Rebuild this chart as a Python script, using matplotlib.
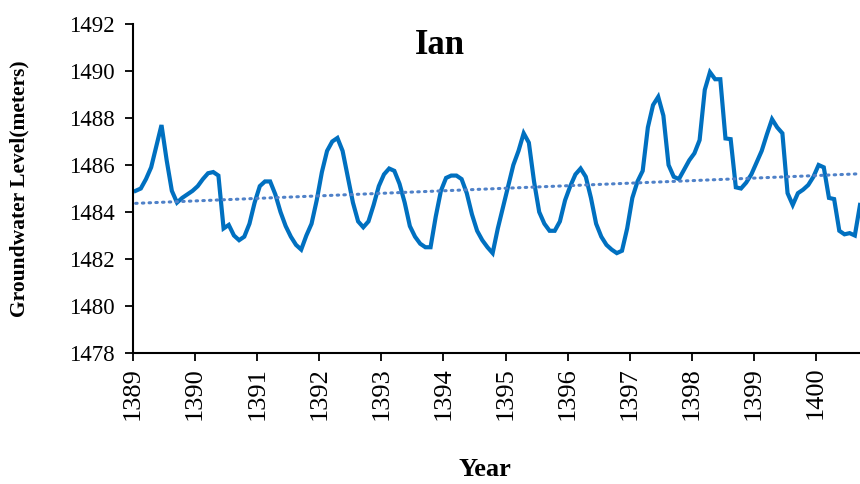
import numpy as np
import matplotlib.pyplot as plt

plt.rcParams['font.family'] = ['Liberation Serif', 'DejaVu Serif']

# monthly groundwater level (m), 1389 .. 1400
level = [
    1484.9, 1485.0, 1485.4, 1485.9, 1486.8, 1487.7, 1486.2, 1484.9, 1484.4, 1484.6, 1484.75, 1484.9,
    1485.1, 1485.4, 1485.65, 1485.7, 1485.55, 1483.3, 1483.45, 1483.0, 1482.8, 1482.95, 1483.5, 1484.4,
    1485.1, 1485.3, 1485.3, 1484.75, 1484.0, 1483.4, 1482.95, 1482.6, 1482.4, 1483.0, 1483.5, 1484.5,
    1485.7, 1486.6, 1487.0, 1487.15, 1486.6, 1485.5, 1484.4, 1483.6, 1483.35, 1483.6, 1484.3, 1485.1,
    1485.6, 1485.85, 1485.75, 1485.2, 1484.4, 1483.4, 1482.95, 1482.65, 1482.5, 1482.5, 1483.8, 1484.9,
    1485.45, 1485.55, 1485.55, 1485.4, 1484.8, 1483.9, 1483.2, 1482.8, 1482.5, 1482.25, 1483.3, 1484.2,
    1485.1, 1486.0, 1486.6, 1487.35, 1486.95, 1485.3, 1484.0, 1483.5, 1483.2, 1483.2, 1483.6, 1484.5,
    1485.1, 1485.6, 1485.85, 1485.5, 1484.6, 1483.5, 1482.95, 1482.6, 1482.4, 1482.25, 1482.35, 1483.3,
    1484.6, 1485.3, 1485.75, 1487.6, 1488.55, 1488.9, 1488.1, 1486.0, 1485.5, 1485.4, 1485.8, 1486.2,
    1486.5, 1487.06, 1489.2, 1489.95, 1489.65, 1489.65, 1487.13, 1487.1, 1485.05, 1485.0, 1485.25, 1485.6,
    1486.1, 1486.6, 1487.3, 1487.95, 1487.6, 1487.35, 1484.8, 1484.3, 1484.8, 1484.95, 1485.15, 1485.5,
    1486.0, 1485.9, 1484.6, 1484.55, 1483.2, 1483.05, 1483.1, 1483.0, 1484.3,
]
start_year = 1389
years = list(range(1389, 1401))
yticks = list(range(1478, 1493, 2))

n = len(level)
t = start_year + (np.arange(n) + 0.5) / 12.0

fig = plt.figure(figsize=(8.6, 4.84), dpi=100)
ax = fig.add_axes([0.1547, 0.2707, 0.8453, 0.6797])

ax.plot(t, level, color='#0070C0', lw=3.0, solid_joinstyle='miter')

# linear trend
p = np.polyfit(t, level, 1)
ax.plot(t, np.polyval(p, t), color='#4F81C8', lw=2.2, ls=(0, (0.5, 1.7)),
        dash_capstyle='round')

ax.set_xlim(start_year, t[-1])
ax.set_ylim(1478, 1492)
ax.set_xticks(years)
ax.set_xticklabels([str(y) for y in years], rotation=90, fontsize=19)
ax.set_yticks(yticks)
ax.tick_params(direction='out', length=6, width=1.3, color='black')
ax.tick_params(axis='y', labelsize=16.5, pad=7)
ax.tick_params(axis='x', pad=4)
for s in ['top', 'right']:
    ax.spines[s].set_visible(False)
for s in ['left', 'bottom']:
    ax.spines[s].set_linewidth(1.5)

ax.set_ylabel('Groundwater Level(meters)', fontsize=15.5, fontweight='bold')
ax.yaxis.set_label_coords(-0.143, 0.50)
fig.text(0.564, 0.03, 'Year', fontsize=19, fontweight='bold', ha='center', va='center')
fig.text(0.5116, 0.905, 'Ian', fontsize=25, fontweight='bold', ha='center', va='center')

fig.savefig('out.png', dpi=100)
